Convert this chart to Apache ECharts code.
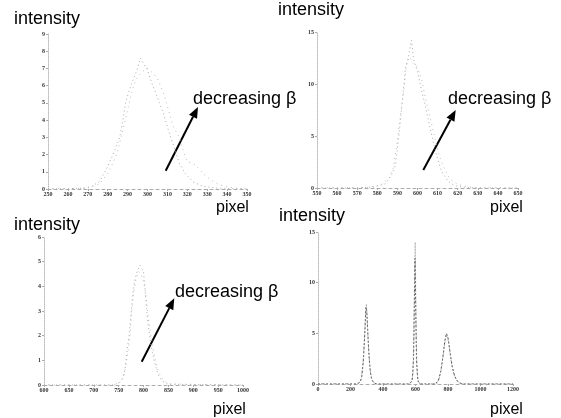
<!DOCTYPE html>
<html>
<head>
<meta charset="utf-8">
<script src="https://cdn.jsdelivr.net/npm/echarts@6/dist/echarts.min.js"></script>
<style>
  html, body { margin: 0; padding: 0; background: #fff; }
  #main { width: 561px; height: 418px; }
</style>
</head>
<body>
<div id="main"></div>
<script>
// panel 1: pixel 250-350
var p1A = [[250,0],[260,0.02],[268,0.05],[272,0.15],[276,0.45],[280,1.3],[283,2.1],[286,3.0],[287.5,3.9],[289,5.0],[291,5.8],[293,6.4],[295,7.0],[296.5,7.6],[298,7.3],[300,6.9],[302,6.2],[304,5.6],[306,5.0],[308,4.4],[310,3.6],[312,2.9],[314,2.2],[316,1.5],[319,0.9],[323,0.4],[328,0.15],[335,0.05],[350,0]];
var p1B = [[250,0],[270,0.05],[276,0.3],[280,0.9],[283,1.6],[285,2.2],[288,3.6],[290,4.6],[292,5.6],[294,6.3],[297,6.8],[300,7.0],[303,6.7],[305,6.4],[308,5.6],[310,4.8],[313,3.6],[316,3.0],[318,2.2],[320,1.6],[324,1.4],[328,0.9],[332,0.5],[336,0.25],[340,0.12],[345,0.05],[350,0]];
// panel 2: pixel 550-650
var p2A = [[550,0],[570,0],[578,0.1],[584,0.4],[587,1.2],[589,2.2],[590,3.8],[591,5.5],[592,7.5],[593,9.5],[594,11.5],[595.5,12.6],[597,14.2],[598,12.4],[600,11.2],[602,9.4],[604,7.8],[606,6.0],[608,4.3],[610,2.8],[612,1.6],[615,0.7],[618,0.25],[622,0.08],[630,0],[650,0]];
var p2B = [[550,0],[575,0.05],[582,0.3],[586,1.0],[588,2.0],[590,4.5],[591.5,7.0],[593,9.0],[594.5,11.8],[596,12.6],[598,12.0],[600,11.6],[602,10.5],[604,8.6],[605.5,7.4],[607,6.2],[609,4.5],[611,3.0],[613,2.0],[616,0.9],[620,0.35],[625,0.1],[630,0.03],[650,0]];
// panel 3: pixel 600-1000
var p3A = [[600,0],[740,0],[752,0.1],[760,0.35],[764,0.8],[767,1.4],[771,2.0],[775,2.9],[778,3.6],[782,4.2],[787,4.6],[793,4.85],[797,4.9],[800,4.6],[803,3.9],[806,3.1],[809,2.5],[813,1.9],[818,1.3],[824,0.8],[830,0.4],[838,0.15],[850,0.03],[1000,0]];
var p3B = [[600,0],[745,0],[756,0.2],[762,0.5],[768,1.2],[773,2.0],[776,2.9],[780,3.7],[785,4.3],[790,4.6],[795,4.5],[800,4.2],[805,3.6],[808,3.0],[812,2.4],[815,2.0],[819,1.55],[823,1.1],[829,0.6],[836,0.3],[845,0.12],[855,0.04],[1000,0]];
// panel 4: pixel 0-1200, all three peaks
var p4A = [[0,0],[240,0],[260,0.2],[270,0.8],[280,2.5],[288,5.0],[295,7.6],[300,7.2],[306,5.2],[314,2.8],[322,1.2],[332,0.4],[345,0.1],[360,0],[560,0],[580,0.3],[588,2.5],[593,8.0],[597,12.4],[601,8.0],[606,2.5],[614,0.3],[630,0],[720,0],[740,0.3],[755,1.2],[768,2.6],[780,4.2],[790,5.0],[800,4.6],[812,3.2],[825,1.8],[840,0.8],[860,0.25],[880,0.05],[900,0],[1200,0]];
var p4B = [[0,0],[250,0],[265,0.4],[276,1.8],[285,4.2],[292,6.8],[298,7.9],[303,6.4],[310,3.8],[318,1.8],[328,0.6],[340,0.15],[360,0],[570,0],[584,1.0],[590,5.0],[595,11.0],[598,14.0],[600,11.5],[604,5.0],[610,1.2],[620,0.1],[640,0],[730,0],[748,0.6],[762,1.8],[775,3.4],[786,4.6],[793,4.8],[805,4.0],[818,2.4],[832,1.2],[850,0.4],[870,0.1],[900,0],[1200,0]];

var xRanges = [[250,350,10],[550,650,10],[600,1000,50],[0,1200,200]];
var yRanges = [[0,9,1],[0,15,5],[0,6,1],[0,15,5]];

var grids = [
  {left: 48, top: 34, width: 199, height: 155},
  {left: 317, top: 32, width: 201, height: 156},
  {left: 44, top: 237, width: 199, height: 148},
  {left: 318, top: 232, width: 195, height: 152}
];

var tickFont = {fontSize: 6, fontFamily: 'Liberation Serif', color: '#333', fontWeight: 'bold'};

var xAxes = xRanges.map(function (r, i) {
  return {
    type: 'value', gridIndex: i, min: r[0], max: r[1], interval: r[2],
    axisLine: {lineStyle: {color: '#aaa', type: [3, 3], width: 1}},
    axisTick: {show: true, length: 2, lineStyle: {color: '#aaa'}},
    axisLabel: Object.assign({margin: 2, formatter: function (v) { return String(v); }}, tickFont),
    splitLine: {show: false}
  };
});
var yAxes = yRanges.map(function (r, i) {
  return {
    type: 'value', gridIndex: i, min: r[0], max: r[1], interval: r[2],
    axisLine: {show: true, lineStyle: {color: '#bbb', type: 'dotted', width: 1}},
    axisTick: {show: true, length: 2, lineStyle: {color: '#aaa'}},
    axisLabel: Object.assign({margin: 3}, tickFont),
    splitLine: {show: false}
  };
});

function curve(data, i, color, type) {
  return {
    type: 'line', xAxisIndex: i, yAxisIndex: i, data: data,
    showSymbol: false, silent: true, animation: false,
    lineStyle: {color: color, width: 1, type: type}
  };
}

// arrow annotation: line + triangular head
function arrow(x1, y1, x2, y2) {
  var dx = x2 - x1, dy = y2 - y1;
  var len = Math.sqrt(dx * dx + dy * dy);
  var ux = dx / len, uy = dy / len;
  var bx = x2 - 11 * ux, by = y2 - 11 * uy;
  var px = -uy, py = ux;
  return [
    {type: 'line', shape: {x1: x1, y1: y1, x2: bx, y2: by}, style: {stroke: '#000', lineWidth: 2}},
    {type: 'polygon', shape: {points: [[x2, y2], [bx + 4.5 * px, by + 4.5 * py], [bx - 4.5 * px, by - 4.5 * py]]}, style: {fill: '#000'}}
  ];
}

function label(txt, x, y, size) {
  return {type: 'text', left: x, top: y, style: {text: txt, fill: '#000', font: size + 'px "Liberation Sans", Arial, sans-serif'}};
}

var graphics = [
  label('intensity', 14, 10, 18),
  label('intensity', 278, 1, 18),
  label('intensity', 14, 216, 18),
  label('intensity', 279, 207, 18),
  label('decreasing β', 193, 90, 18),
  label('decreasing β', 448, 90, 18),
  label('decreasing β', 175, 283, 18),
  label('pixel', 216, 200, 16),
  label('pixel', 490, 200, 16),
  label('pixel', 213, 402, 16),
  label('pixel', 490, 402, 16)
].concat(arrow(165.7, 170.7, 198, 107))
 .concat(arrow(423.3, 170, 455.7, 110))
 .concat(arrow(141.7, 361.7, 174.3, 298.3));

var chart = echarts.init(document.getElementById('main'), null, {renderer: 'canvas'});
chart.setOption({
  backgroundColor: '#fff',
  animation: false,
  grid: grids,
  xAxis: xAxes,
  yAxis: yAxes,
  series: [
    curve(p1A, 0, '#aaa', [1, 3]),
    curve(p1B, 0, '#bbb', [1, 4]),
    curve(p2A, 1, '#aaa', [1, 3]),
    curve(p2B, 1, '#bbb', [1, 4]),
    curve(p3A, 2, '#aaa', [1, 3]),
    curve(p3B, 2, '#bbb', [1, 4]),
    curve(p4A, 3, '#555', [2, 2]),
    curve(p4B, 3, '#888', [1, 2])
  ],
  graphic: graphics
});
</script>
</body>
</html>
